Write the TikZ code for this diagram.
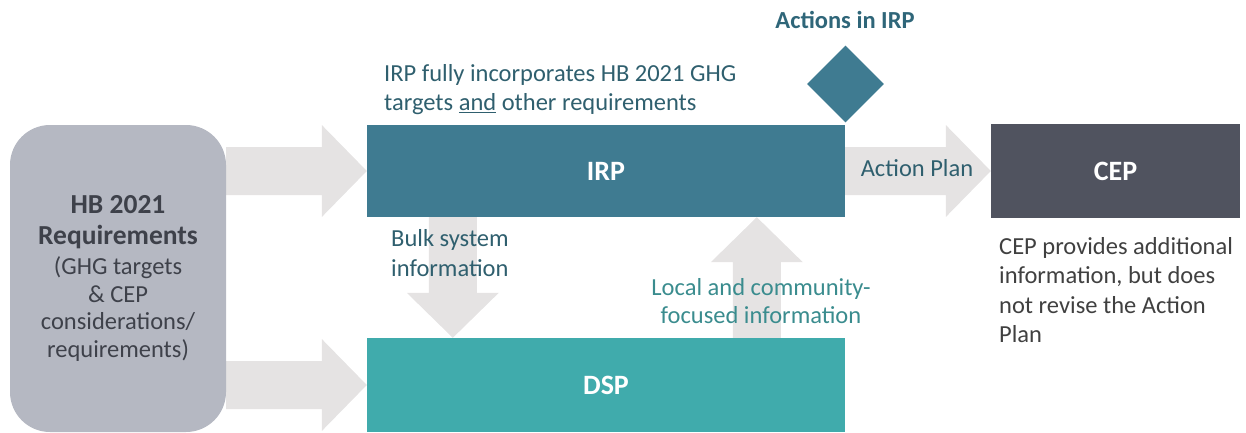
\documentclass[tikz,border=0pt]{standalone}
\usepackage{fontspec}
\setmainfont{Carlito}
\usetikzlibrary{shapes.geometric,calc,backgrounds}
\definecolor{arrowgray}{HTML}{E5E3E3}
\definecolor{irpblue}{HTML}{3F7B91}
\definecolor{dspteal}{HTML}{40ABAC}
\definecolor{cepgray}{HTML}{50535F}
\definecolor{reqgray}{HTML}{B5B8C2}
\definecolor{reqtext}{HTML}{3E414A}
\definecolor{darkteal}{HTML}{2F5F6E}
\definecolor{acttitle}{HTML}{2F6679}
\definecolor{localteal}{HTML}{3A8C8E}
\definecolor{ceptext}{HTML}{404040}
\newcommand{\blockarrow}[2]{%
  \path (#1) coordinate (bas) (#2) coordinate (bat);
  \path ($(bat)!45pt!(bas)$) coordinate (bah);
  \fill[arrowgray] ($(bas)!24pt!90:(bat)$) -- ($(bah)!24pt!90:(bat)$) -- ($(bah)!46pt!90:(bat)$) -- (bat)
    -- ($(bah)!46pt!-90:(bat)$) -- ($(bah)!24pt!-90:(bat)$) -- ($(bas)!24pt!-90:(bat)$) -- cycle;}
\begin{document}
\begin{tikzpicture}[x=1pt,y=-1pt,
  box/.style={inner sep=0pt, text=white, font=\bfseries\fontsize{28}{28}\selectfont},
  txt/.style={inner sep=0pt, font=\fontsize{24.5}{29}\selectfont}]
\useasboundingbox (0,0) rectangle (1246,433);
\node[box, fill=reqgray, rounded corners=40pt, minimum width=216pt, minimum height=307pt,
  text=reqtext, align=center, font=\fontsize{24.5}{27.5}\selectfont] (req) at (118,278.5)
  {{\bfseries\fontsize{27.5}{27.5}\selectfont HB 2021}\\[3pt]{\bfseries\fontsize{27.5}{27.5}\selectfont Requirements}\\[3pt](GHG targets\\\& CEP\\considerations/\\requirements)};
\node[box, fill=irpblue, minimum width=478pt, minimum height=92pt] (irp) at (606,171) {IRP};
\node[box, fill=dspteal, minimum width=478pt, minimum height=94pt] (dsp) at (606,385) {DSP};
\node[box, fill=cepgray, minimum width=249pt, minimum height=94pt] (cep) at (1115.5,171) {CEP};
\node[diamond, fill=irpblue, minimum width=77pt, minimum height=77pt, inner sep=0pt] (act) at (845.5,84) {};
\node[inner sep=0pt, text=acttitle, font=\bfseries\fontsize{24.5}{24.5}\selectfont] (acttxt) at (845,20) {Actions in IRP};
\node[txt, anchor=west, align=left, text=darkteal] (note) at (384,90)
  {IRP fully incorporates HB 2021 GHG\\targets \underline{and} other requirements};
\node[txt, anchor=west, align=left, text=darkteal, font=\fontsize{24.5}{30}\selectfont] (bulk) at (391,253) {Bulk system\\information};
\node[txt, align=center, text=localteal, font=\fontsize{24.5}{28}\selectfont] (local) at (761,301) {Local and community-\\focused information};
\node[txt, text=darkteal] (aplan) at (917,168) {Action Plan};
\node[txt, anchor=north west, align=left, text=ceptext, font=\fontsize{24.5}{29.5}\selectfont] (cepnote) at (999,237)
  {CEP provides additional\\information, but does\\not revise the Action\\Plan};
\coordinate (dtop) at ($(irp.south west)+(86,0)$);
\coordinate (dbot) at (dtop |- dsp.north);
\coordinate (ubot) at ($(dsp.north west)+(390,0)$);
\coordinate (utop) at (ubot |- irp.south);
\begin{pgfonlayer}{background}
  \blockarrow{req.east |- irp.west}{irp.west}
  \blockarrow{req.east |- dsp.west}{dsp.west}
  \blockarrow{irp.east}{cep.west}
  \blockarrow{dtop}{dbot}
  \blockarrow{ubot}{utop}
\end{pgfonlayer}
\end{tikzpicture}
\end{document}
